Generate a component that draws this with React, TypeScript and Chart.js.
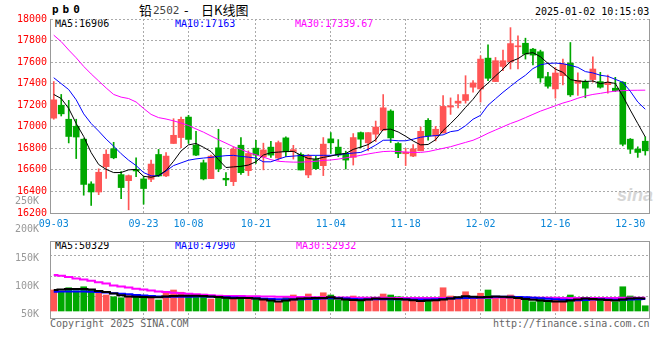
import React, { useEffect, useRef } from 'react';
import { Chart, registerables } from 'chart.js';
Chart.register(...registerables);

const dates = [
  '09-03','09-04','09-05','09-06','09-09','09-10','09-11','09-12','09-13','09-18','09-19','09-20','09-23','09-24','09-25','09-26','09-27','09-30',
  '10-08','10-09','10-10','10-11','10-14','10-15','10-16','10-17','10-18','10-21','10-22','10-23','10-24','10-25','10-28','10-29','10-30','10-31',
  '11-01','11-04','11-05','11-06','11-07','11-08','11-11','11-12','11-13','11-14','11-15','11-18','11-19','11-20','11-21','11-22','11-25','11-26','11-27','11-28','11-29',
  '12-02','12-03','12-04','12-05','12-06','12-09','12-10','12-11','12-12','12-13','12-16','12-17','12-18','12-19','12-20','12-23','12-24','12-25','12-26','12-27','12-30','12-31',
  '01-02'
];
const xTickLabels = ['09-03','09-23','10-08','10-21','11-04','11-18','12-02','12-16','12-30'];
const xGridLabels = ['09-23','10-08','10-21','11-04','11-18','12-02','12-16'];

const opens = [17080,17200,17070,17005,16885,16470,16395,16630,16796,16556,16500,16605,16516,16513,16743,16544,16845,16900,17090,16829,
  16666,16519,16805,16522,16491,16829,16593,16802,16720,16811,16710,16897,16770,16743,16553,16697,16639,16888,16811,16752,
  16716,16946,16851,16931,16967,17146,16845,16750,16728,16777,17060,16915,16943,17183,17219,17244,17367,17351,17637,17419,
  17560,17603,17742,17775,17720,17696,17465,17351,17474,17591,17405,17419,17438,17419,17391,17358,17413,16885,16792,16866];
const highs = [17420,17300,17245,17070,16890,16490,16610,16785,16856,16585,16553,16712,16537,16690,16790,16760,17075,17090,17106,16958,
  16691,16737,16977,16574,16814,16900,16777,16875,16848,16866,16868,16906,16828,16759,16743,16728,16900,16946,16881,16774,
  16937,16952,16946,17053,17299,17158,16854,16800,16835,16998,17075,17004,17290,17268,17299,17474,17428,17659,17760,17643,
  17711,17920,17843,17822,17729,17711,17505,17551,17628,17782,17500,17434,17649,17505,17480,17459,17419,16891,16814,16906];
const lows = [17070,17100,16850,16705,16365,16270,16370,16520,16703,16332,16230,16538,16282,16490,16537,16537,16845,16805,16845,16731,
  16507,16519,16583,16454,16454,16559,16547,16660,16600,16716,16690,16722,16700,16599,16528,16605,16547,16752,16722,16608,
  16645,16805,16777,16863,16967,16854,16713,16640,16722,16777,16875,16869,16943,17115,17176,17219,17321,17229,17428,17419,
  17520,17536,17536,17628,17573,17413,17358,17265,17388,17281,17290,17269,17413,17358,17312,17327,16823,16752,16716,16737];
const closes = [17250,17120,16910,16905,16465,16395,16578,16745,16712,16436,16547,16590,16427,16654,16544,16728,16921,17069,16883,16737,
  16516,16728,16611,16507,16792,16574,16752,16737,16785,16737,16853,16768,16788,16599,16731,16611,16839,16851,16737,16691,
  16900,16885,16946,16998,17176,16897,16752,16765,16795,16958,16915,16977,17189,17195,17238,17299,17407,17628,17450,17613,
  17613,17772,17745,17674,17665,17453,17376,17499,17582,17296,17430,17358,17536,17367,17413,17336,16838,16792,16762,16777];

const ma5 = [17300,17262,17170,17030,16910,16760,16650,16605,16575,16576,16600,16605,16540,16532,16548,16595,16680,16775,16832,16845,
  16810,16770,16695,16622,16628,16633,16645,16675,16738,16760,16765,16770,16772,16737,16705,16700,16716,16728,16745,16752,
  16790,16812,16835,16880,16975,16978,16952,16912,16868,16832,16836,16880,16965,17030,17100,17180,17255,17345,17405,17472,
  17535,17605,17632,17678,17688,17650,17588,17535,17505,17438,17425,17420,17425,17400,17415,17402,17285,17155,17030,16906];
const ma10 = [17455,17400,17345,17250,17120,17030,16960,16885,16820,16750,16690,16640,16575,16545,16545,16590,16640,16665,16690,16702,
  16710,16716,16725,16732,16735,16725,16718,16710,16675,16675,16700,16722,16728,16733,16735,16735,16735,16735,16740,16750,
  16756,16762,16792,16830,16875,16876,16870,16870,16885,16903,16912,16918,16925,16955,16965,17010,17070,17106,17200,17260,
  17320,17375,17430,17478,17540,17575,17588,17591,17585,17570,17551,17512,17500,17478,17468,17440,17413,17330,17230,17163];
const ma30 = [17850,17790,17712,17640,17560,17490,17425,17360,17300,17275,17262,17230,17170,17115,17085,17072,17055,17035,17012,16980,
  16950,16915,16880,16848,16815,16790,16762,16740,16718,16695,16680,16675,16672,16672,16675,16680,16688,16692,16700,16712,
  16722,16735,16748,16760,16770,16773,16770,16765,16762,16762,16770,16785,16800,16815,16835,16855,16875,16905,16940,16970,
  17000,17030,17055,17085,17115,17145,17170,17195,17220,17240,17265,17285,17300,17310,17322,17330,17335,17338,17339,17339.67];

const volumes = [84000,77000,93000,81000,97000,84000,80000,64000,57000,53000,61000,57000,61000,55000,44000,75000,84000,75000,64000,64000,
  67000,48000,57000,57000,53000,55000,48000,48000,48000,41000,37000,55000,64000,48000,68000,48000,73000,64000,44000,51000,
  60000,48000,44000,51000,68000,64000,57000,44000,40000,36000,44000,40000,93000,60000,51000,77000,55000,71000,84000,57000,
  57000,64000,57000,44000,37000,51000,44000,47000,47000,64000,51000,48000,53000,48000,48000,37000,97000,60000,47000,21000];
const volMa5 = [84000,86000,88000,88000,88000,86000,80000,76000,70000,63000,58000,57000,56000,55000,55000,58000,60000,61000,61000,61000,
  60000,58000,56000,53000,51000,52000,52000,50000,46000,42000,38000,42000,46000,50000,51000,52000,52000,55000,50000,46000,
  44000,43000,46000,50000,49000,49000,48000,46000,43000,40000,42000,43000,46000,50000,55000,59000,57000,55000,56000,58000,
  57000,55000,52000,48000,45000,42000,40000,38000,38000,42000,46000,50000,48000,46000,44000,42000,46000,50000,51000,50329];
const volMa10 = [77000,78000,78000,78000,78000,77000,76000,74000,71000,69000,67000,64000,62000,60000,58000,57000,57000,57000,57000,58000,
  58000,57000,56000,55000,54000,53000,52000,51000,49000,48000,47000,47000,47000,47000,48000,49000,50000,51000,51000,50000,
  48000,47000,47000,47000,47000,47000,47000,47000,46000,46000,46000,47000,48000,50000,51000,52000,53000,54000,55000,57000,
  57000,57000,56000,55000,53000,51000,49000,47000,45000,44000,43000,44000,46000,47000,46000,45000,45000,46000,47000,47990];
const volMa30 = [144000,141000,136000,130000,126000,121000,115000,110000,102000,98000,94000,89000,86000,82000,78000,76000,73000,71000,69000,67000,
  65000,63000,61000,60000,60000,60000,59500,59000,58500,58000,57000,57000,56500,56000,55500,55000,55000,54500,54000,54000,
  53500,53500,53000,53000,53000,52500,52500,52500,52000,52000,52000,52000,52500,52500,52500,53000,53000,53500,53500,54000,
  54000,54000,54000,53500,53500,53000,53000,53000,52500,52500,52500,52500,52500,52500,52500,52500,53000,53000,53000,52932];
const volTickValues = [50000,100000,150000,200000,250000];

const RED = '#ff5555';
const GREEN = '#00a800';
const GRID = '#aaaaaa';
const AXIS = '#999999';
const MONO = "'DejaVu Sans Mono', monospace";
const CJK = "'Noto Sans CJK SC', sans-serif";

const Txt = ({ x, y, color = '#000', size = 10, bold = false, family = MONO, children, style = {} }: any) => (
  <div style={{ position: 'absolute', left: x, top: y, color, fontFamily: family, fontSize: size, fontWeight: bold ? 'bold' : 'normal', lineHeight: '12px', whiteSpace: 'pre', ...style }}>{children}</div>
);

export default function App() {
  const mainRef = useRef<HTMLCanvasElement>(null);
  const volRef = useRef<HTMLCanvasElement>(null);
  const lblRef = useRef<HTMLCanvasElement>(null);

  useEffect(() => {
    const colors = closes.map((c, i) => (c >= opens[i] ? RED : GREEN));
    const bodies = opens.map((o, i) => [o, closes[i]]);
    const wicks = lows.map((l, i) => [l, highs[i]]);
    const tickSet = new Set(xTickLabels);
    const gridSet = new Set(xGridLabels);
    const font = { family: MONO, size: 10 };
    const xGridColor = (ctx: any) => (gridSet.has(dates[ctx.index]) ? GRID : 'rgba(0,0,0,0)');
    const base = {
      responsive: false,
      animation: false,
      events: [],
      plugins: { legend: { display: false }, tooltip: { enabled: false } },
    };

    const main = new Chart(mainRef.current!, {
      type: 'bar',
      data: {
        labels: dates,
        datasets: [
          { type: 'line', data: ma5, borderColor: '#000000', borderWidth: 1, pointRadius: 0, order: 0 } as any,
          { type: 'line', data: ma10, borderColor: '#0000ff', borderWidth: 1, pointRadius: 0, order: 0 } as any,
          { type: 'line', data: ma30, borderColor: '#ff00ff', borderWidth: 1, pointRadius: 0, order: 0 } as any,
          { type: 'bar', data: bodies, backgroundColor: colors, barThickness: 6, minBarLength: 1, grouped: false, order: 1 } as any,
          { type: 'bar', data: wicks, backgroundColor: colors, barThickness: 1, grouped: false, order: 2 } as any,
        ],
      },
      options: {
        ...base,
        layout: { padding: { left: 0, right: 11, top: 19, bottom: 7 } },
        scales: {
          x: {
            type: 'category',
            offset: true,
            grid: { offset: false, color: xGridColor, drawTicks: false, lineWidth: 1 },
            border: { color: AXIS, dash: [2, 2] },
            ticks: {
              autoSkip: false, maxRotation: 0, minRotation: 0, padding: 5, color: '#0a86d8', font,
              callback: (_v: any, i: number) => (tickSet.has(dates[i]) ? dates[i] : ''),
            },
            afterFit: (s: any) => { s.height = 20; },
          },
          y: {
            type: 'linear', position: 'left', min: 16200, max: 18000,
            ticks: { stepSize: 200, color: '#ff0000', padding: 3, font, callback: (v: any) => String(v) },
            grid: { color: GRID, drawTicks: false },
            border: { color: AXIS, dash: [2, 2] },
            afterFit: (s: any) => { s.width = 50; },
          },
          yR: {
            type: 'linear', position: 'right',
            ticks: { display: false }, grid: { display: false },
            border: { display: true, color: AXIS },
            afterFit: (s: any) => { s.width = 0; },
          },
        },
      } as any,
    });

    const vol = new Chart(volRef.current!, {
      type: 'bar',
      data: {
        labels: dates,
        datasets: [
          { type: 'line', data: volMa5, borderColor: '#000000', borderWidth: 2, stepped: 'middle', pointRadius: 0, order: 0, yAxisID: 'y', xAxisID: 'x' } as any,
          { type: 'line', data: volMa10, borderColor: '#0000ff', borderWidth: 2, stepped: 'middle', pointRadius: 0, order: 0, yAxisID: 'y', xAxisID: 'x' } as any,
          { type: 'line', data: volMa30, borderColor: '#ff00ff', borderWidth: 2, stepped: 'middle', pointRadius: 0, order: 0, yAxisID: 'y', xAxisID: 'x' } as any,
          { type: 'bar', data: volumes, backgroundColor: colors, barThickness: 6, order: 1, yAxisID: 'y', xAxisID: 'x' } as any,
        ],
      },
      options: {
        ...base,
        layout: { padding: { left: 0, right: 11, top: 6, bottom: 17 } },
        scales: {
          x: {
            type: 'category', position: 'bottom', offset: true,
            grid: { offset: false, color: xGridColor, drawTicks: false },
            border: { color: AXIS, dash: [2, 2] },
            ticks: { display: false },
            afterFit: (s: any) => { s.height = 0; },
          },
          xTop: {
            type: 'category', position: 'top', offset: true,
            grid: { display: false }, ticks: { display: false },
            border: { display: true, color: AXIS },
            afterFit: (s: any) => { s.height = 0; },
          },
          yl: {
            type: 'linear', position: 'left',
            ticks: { display: false }, grid: { display: false },
            border: { color: AXIS },
            afterFit: (s: any) => { s.width = 50; },
          },
          y: {
            type: 'linear', position: 'right', min: -28000, max: 280000, bounds: 'data',
            afterBuildTicks: (s: any) => { s.ticks = [60000, 140000, 220000].map((v) => ({ value: v })); },
            ticks: { display: false },
            grid: { color: GRID, drawTicks: false },
            border: { color: AXIS, dash: [2, 2] },
            afterFit: (s: any) => { s.width = 0; },
          },
        },
      } as any,
    });

    // volume tick labels (their spacing in the original does not follow the bar scale)
    const lbl = new Chart(lblRef.current!, {
      type: 'bar',
      data: { labels: dates, datasets: [] },
      options: {
        ...base,
        layout: { padding: { left: 0, right: 11, top: 45, bottom: 12 } },
        scales: {
          x: { display: false },
          y: {
            type: 'linear', position: 'left', min: 44000, max: 261000, bounds: 'data',
            afterBuildTicks: (s: any) => { s.ticks = volTickValues.map((v) => ({ value: v })); },
            ticks: {
              autoSkip: false, color: '#999999', padding: 3, font,
              callback: (v: any) => `${Math.round(v / 1000)}K`,
            },
            grid: { display: false },
            border: { display: false },
            afterFit: (s: any) => { s.width = 50; },
          },
        },
      } as any,
    });

    return () => { main.destroy(); vol.destroy(); lbl.destroy(); };
  }, []);

  const last = dates.length - 1;
  return (
    <div style={{ position: 'absolute', left: 0, top: 0, width: 660, height: 360, background: '#ffffff', overflow: 'hidden' }}>
      <Txt x={617} y={184} color="#d6d6d6" size={18} bold family="'Liberation Sans', sans-serif" style={{ fontStyle: 'italic', lineHeight: '22px' }}>sina</Txt>
      <Txt x={52} y={4} bold size={11} style={{ letterSpacing: '4px' }}>pb0</Txt>
      <Txt x={139} y={3} size={13} family={CJK} style={{ lineHeight: '14px' }}>铅</Txt>
      <Txt x={153} y={4} size={11} color="#444444" style={{ lineHeight: '14px' }}>2502</Txt>
      <Txt x={184} y={3} size={13} family={CJK} style={{ lineHeight: '14px' }}>-</Txt>
      <Txt x={201} y={3} size={13} family={CJK} style={{ lineHeight: '14px' }}>日K线图</Txt>
      <Txt x={535} y={6}>2025-01-02 10:15:03</Txt>
      <Txt x={55} y={18}>{`MA5:${ma5[last]}`}</Txt>
      <Txt x={175} y={18} color="#0000ff">{`MA10:${ma10[last]}`}</Txt>
      <Txt x={295} y={18} color="#ff00ff">{`MA30:${ma30[last]}`}</Txt>
      <Txt x={55} y={240}>{`MA5:${volMa5[last]}`}</Txt>
      <Txt x={175} y={240} color="#0000ff">{`MA10:${volMa10[last]}`}</Txt>
      <Txt x={296} y={240} color="#ff00ff">{`MA30:${volMa30[last]}`}</Txt>
      <Txt x={50} y={318} color="#666666">Copyright 2025 SINA.COM</Txt>
      <Txt x={493} y={318} color="#666666">http://finance.sina.com.cn</Txt>
      <canvas ref={mainRef} width={660} height={240} style={{ position: 'absolute', left: 0, top: 0, width: 660, height: 240 }} />
      <canvas ref={volRef} width={660} height={100} style={{ position: 'absolute', left: 0, top: 235, width: 660, height: 100 }} />
      <canvas ref={lblRef} width={660} height={180} style={{ position: 'absolute', left: 0, top: 150, width: 660, height: 180 }} />
    </div>
  );
}
